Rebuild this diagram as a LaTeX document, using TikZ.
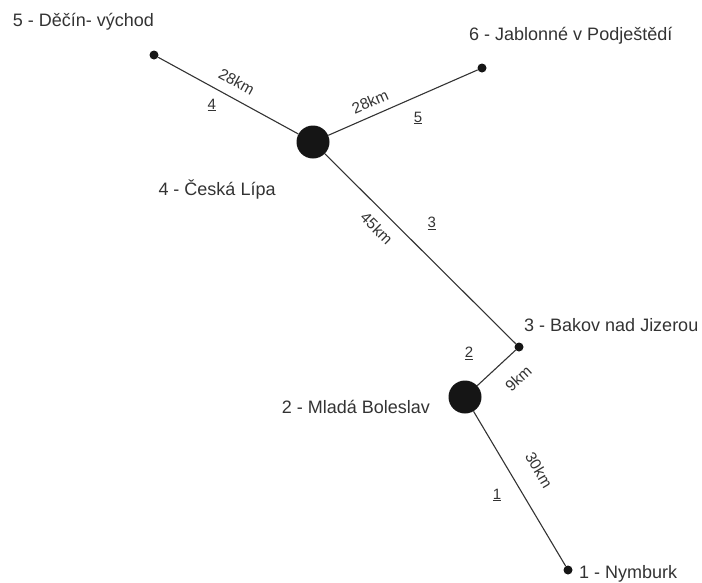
\documentclass[tikz,border=0pt]{standalone}
\usepackage{fontspec}
\setmainfont{Liberation Sans}
\definecolor{ink}{HTML}{333333}
\definecolor{dot}{HTML}{151515}
\begin{document}
\begin{tikzpicture}[x=1pt,y=-1pt,
  stop/.style={circle,fill=dot,inner sep=0pt,minimum size=9pt},
  hub/.style={circle,fill=dot,inner sep=0pt,minimum size=33pt},
  road/.style={draw=ink,line width=1.1pt},
  place/.style={anchor=base west,inner sep=0pt,text=ink,font=\fontsize{18}{20}\selectfont},
  dist/.style={inner sep=0pt,text=ink,font=\fontsize{15.5}{17}\selectfont},
  segno/.style={inner sep=0pt,text=ink,font=\fontsize{15}{17}\selectfont}]
\useasboundingbox (0,0) rectangle (702,582);

% stations
\node[stop] (n5) at (154,55) {};
\node[stop] (n6) at (482,68) {};
\node[hub]  (n4) at (313,142) {};
\node[stop] (n3) at (519,347) {};
\node[hub]  (n2) at (465,397) {};
\node[stop] (n1) at (568,570) {};

% roads
\draw[road] (n5) -- (n4);
\draw[road] (n4) -- (n6);
\draw[road] (n4) -- (n3);
\draw[road] (n3) -- (n2);
\draw[road] (n2) -- (n1);

% station names
\node[place] (l5) at (12.7,26.7) {5 - Děčín- východ};
\node[place] (l6) at (469,40) {6 - Jablonné v Podještědí};
\node[place] (l4) at (158.3,195) {4 - Česká Lípa};
\node[place] (l3) at (524,331.7) {3 - Bakov nad Jizerou};
\node[place] (l2) at (281.7,413.3) {2 - Mladá Boleslav};
\node[place] (l1) at (579,578.5) {1 - Nymburk};

% distances
\node[dist,rotate=-28.7] (d4) at (236.7,81.7) {28km};
\node[dist,rotate=23.6]  (d5) at (370,101.7) {28km};
\node[dist,rotate=-44.9] (d3) at (376.7,228.3) {45km};
\node[dist,rotate=42.8]  (d2) at (518.3,378.3) {9km};
\node[dist,rotate=-59.2] (d1) at (539,470) {30km};

% segment numbers
\node[segno] (s4) at (211.7,105) {\underline{4}};
\node[segno] (s5) at (418,118) {\underline{5}};
\node[segno] (s3) at (431.7,223.3) {\underline{3}};
\node[segno] (s2) at (469,353.3) {\underline{2}};
\node[segno] (s1) at (497,495) {\underline{1}};
\end{tikzpicture}
\end{document}
